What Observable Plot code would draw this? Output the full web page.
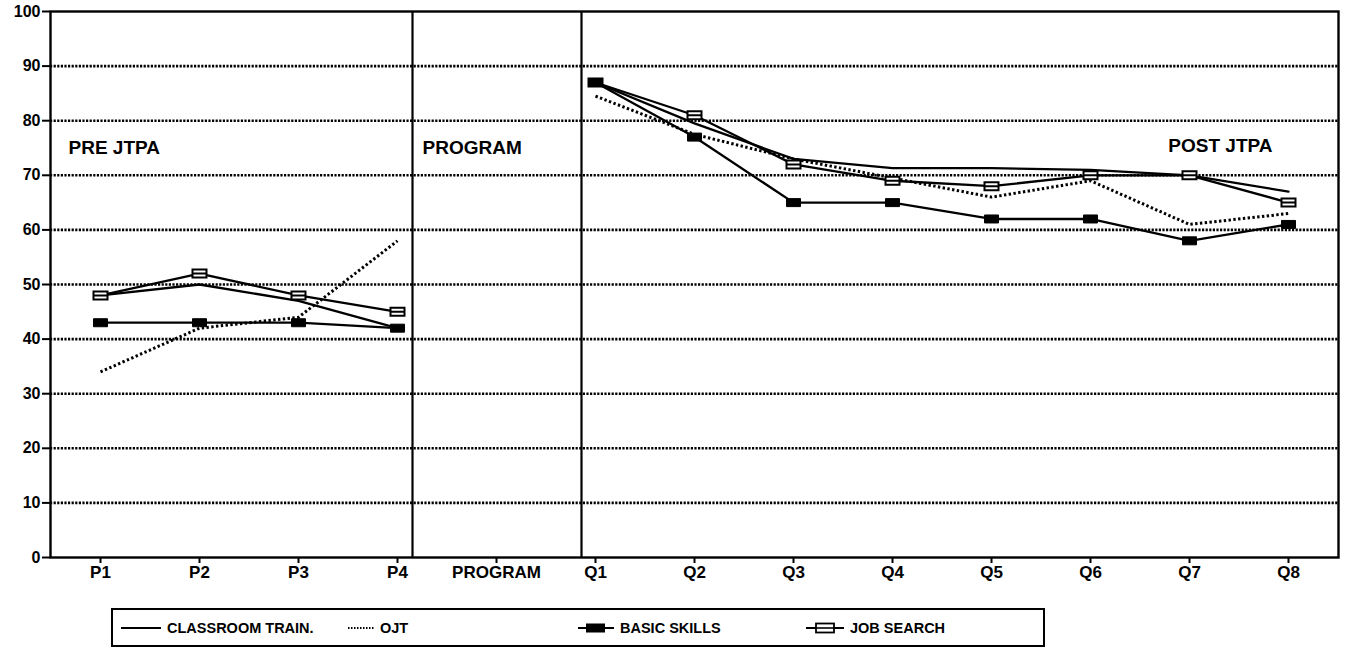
<!DOCTYPE html>
<html>
<head>
<meta charset="utf-8">
<script src="https://cdn.jsdelivr.net/npm/d3@7"></script>
<script src="https://cdn.jsdelivr.net/npm/@observablehq/plot@0.6"></script>
<style>
  body { margin: 0; background: #fff; font-family: "Liberation Sans", Arial, Helvetica, sans-serif; }
  #chart { position: relative; width: 1345px; height: 647px; overflow: hidden; }
  #chart svg.plot { position: absolute; left: 0; top: 0; }
  .legend { position: absolute; left: 111px; top: 608px; width: 934px; height: 39px; border: 2px solid #000; box-sizing: border-box; font-weight: bold; font-size: 14.5px; color: #000; }
  .item { position: absolute; top: 0; height: 100%; display: flex; align-items: center; white-space: nowrap; }
  .item svg { display: block; margin-right: 4px; }
</style>
</head>
<body>
<div id="chart"></div>
<script>
// ---- data ----
const categories = ["P1", "P2", "P3", "P4", "PROGRAM", "Q1", "Q2", "Q3", "Q4", "Q5", "Q6", "Q7", "Q8"];
const classroomTrain = [48, 50, 47, 42, null, 87, 79.5, 73, 71.3, 71.3, 71, 70, 67];
const ojt            = [34, 42, 44, 58, null, 84.5, 77.5, 73, 69.5, 66, 69, 61, 63];
const basicSkills    = [43, 43, 43, 42, null, 87, 77, 65, 65, 62, 62, 58, 61];
const jobSearch      = [48, 52, 48, 45, null, 87, 81, 72, 69, 68, 70, 70, 65];
const yTicks = [0, 10, 20, 30, 40, 50, 60, 70, 80, 90, 100];
const gridLines = [10, 20, 30, 40, 50, 60, 70, 80, 90];
const seriesNames = ["CLASSROOM TRAIN.", "OJT", "BASIC SKILLS", "JOB SEARCH"];
const periodLabels = ["PRE JTPA", "PROGRAM", "POST JTPA"];

const toRows = (vals) => categories.map((c, i) => ({cat: c, value: vals[i]}));

// custom rectangular markers
const filledRect = { draw(ctx) { ctx.moveTo(-7, -4); ctx.lineTo(7, -4); ctx.lineTo(7, 4); ctx.lineTo(-7, 4); ctx.closePath(); } };
const hollowRect = { draw(ctx) { ctx.moveTo(-7, -4); ctx.lineTo(7, -4); ctx.lineTo(7, 4); ctx.lineTo(-7, 4); ctx.closePath(); ctx.moveTo(-7, 0); ctx.lineTo(7, 0); } };

const plot = Plot.plot({
  width: 1345,
  height: 590,
  marginLeft: 50,
  marginRight: 7,
  marginTop: 11,
  marginBottom: 33,
  style: { fontFamily: "'Liberation Sans', Arial, Helvetica, sans-serif", fontSize: "16px", fontWeight: "bold", color: "#000", background: "#fff" },
  x: { type: "point", domain: categories, padding: 0.5, label: null },
  y: { domain: [0, 100], label: null },
  marks: [
    Plot.ruleY(gridLines, { stroke: "#000", strokeWidth: 2.6, strokeDasharray: "2.2,1.4" }),
    Plot.ruleX(["P4"], { dx: 15, stroke: "#000", strokeWidth: 2.2 }),
    Plot.ruleX(["Q1"], { dx: -14, stroke: "#000", strokeWidth: 2.2 }),
    Plot.frame({ stroke: "#000", strokeWidth: 2.4 }),
    Plot.axisY({ ticks: yTicks, tickSize: 8, tickPadding: 2, strokeWidth: 2, fontSize: 16, fontWeight: "bold", label: null }),
    Plot.axisX({ tickSize: 6, tickPadding: 2, strokeWidth: 2, fontSize: 17, fontWeight: "bold", label: null }),
    // lines
    Plot.line(toRows(ojt), { x: "cat", y: "value", stroke: "#000", strokeWidth: 3, strokeDasharray: "2.4,2.4", strokeLinecap: "butt" }),
    Plot.line(toRows(classroomTrain), { x: "cat", y: "value", stroke: "#000", strokeWidth: 2.3 }),
    Plot.line(toRows(jobSearch), { x: "cat", y: "value", stroke: "#000", strokeWidth: 2.3 }),
    Plot.line(toRows(basicSkills), { x: "cat", y: "value", stroke: "#000", strokeWidth: 2.3 }),
    // markers
    Plot.dot(toRows(jobSearch), { x: "cat", y: "value", symbol: hollowRect, fill: "#fff", stroke: "#000", strokeWidth: 2 }),
    Plot.dot(toRows(basicSkills), { x: "cat", y: "value", symbol: filledRect, fill: "#000", stroke: "#000", strokeWidth: 1 }),
    // period labels
    Plot.text([periodLabels[0]], { x: () => "P1", y: () => 75, text: d => d, textAnchor: "start", dx: -32, fontSize: 19, fontWeight: "bold" }),
    Plot.text([periodLabels[1]], { x: () => "P4", y: () => 75, text: d => d, textAnchor: "start", dx: 25, fontSize: 19, fontWeight: "bold" }),
    Plot.text([periodLabels[2]], { x: () => "Q8", y: () => 75.3, text: d => d, textAnchor: "end", dx: -16, fontSize: 19, fontWeight: "bold" })
  ]
});

const chart = document.getElementById("chart");
chart.appendChild(plot);

// legend (HTML below the SVG)
const legend = document.createElement("div");
legend.className = "legend";
const sym = {
  "CLASSROOM TRAIN.": `<svg width="42" height="10"><line x1="0" y1="5" x2="40" y2="5" stroke="#000" stroke-width="2.2"/></svg>`,
  "OJT": `<svg width="28" height="10"><line x1="0" y1="5" x2="26" y2="5" stroke="#000" stroke-width="2" stroke-dasharray="1.5,1.5"/></svg>`,
  "BASIC SKILLS": `<svg width="38" height="12"><line x1="0" y1="6" x2="36" y2="6" stroke="#000" stroke-width="2.2"/><rect x="8" y="1.5" width="19" height="9" fill="#000"/></svg>`,
  "JOB SEARCH": `<svg width="40" height="12"><line x1="0" y1="6" x2="38" y2="6" stroke="#000" stroke-width="2.2"/><rect x="10" y="1.5" width="18" height="9" fill="#fff" stroke="#000" stroke-width="1.8"/><line x1="10" y1="6" x2="28" y2="6" stroke="#000" stroke-width="1.6"/></svg>`
};
const lefts = [8, 235, 465, 693];
seriesNames.forEach((name, i) => {
  const it = document.createElement("div");
  it.className = "item";
  it.style.left = lefts[i] + "px";
  it.innerHTML = sym[name] + `<span>${name}</span>`;
  legend.appendChild(it);
});
chart.appendChild(legend);
</script>
</body>
</html>
